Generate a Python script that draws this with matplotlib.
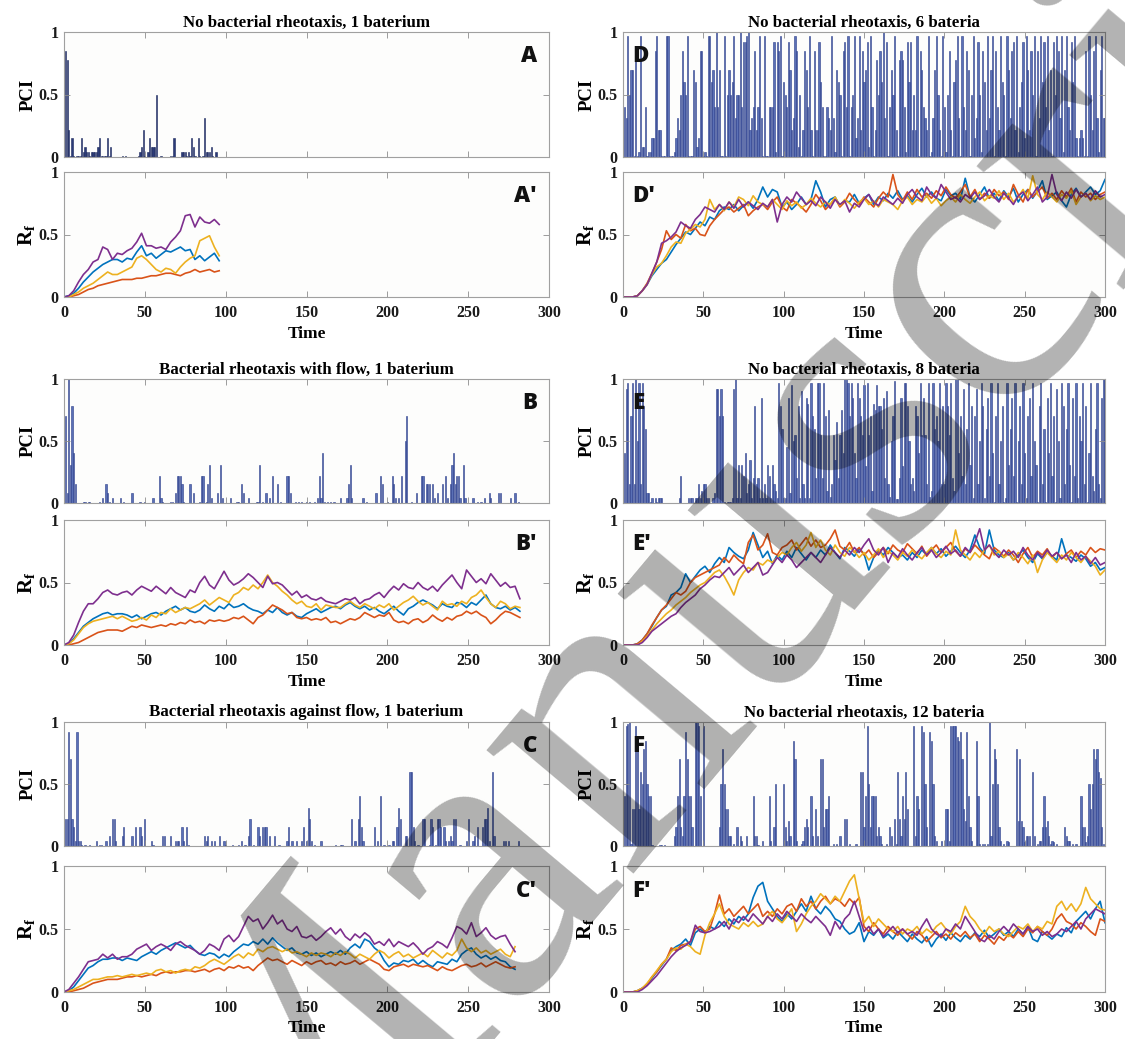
import matplotlib.pyplot as plt
import numpy as np

plt.rcParams['font.family'] = ['Liberation Serif', 'DejaVu Serif']
plt.rcParams['font.weight'] = 'bold'
plt.rcParams['axes.labelweight'] = 'bold'
plt.rcParams['axes.titleweight'] = 'bold'
plt.rcParams['mathtext.fontset'] = 'custom'
plt.rcParams['mathtext.bf'] = 'Liberation Serif:bold'
plt.rcParams['mathtext.rm'] = 'Liberation Serif:bold'

# ---------------- data ----------------
# PCI bars, sparse panels: (time, value)
pci_A = [(1, 0.85), (2, 0.78), (3, 0.22), (4, 0.01), (5, 0.15), (6, 0.01), (8, 0.01), (9, 0.01),
         (10, 0.01), (11, 0.15), (12, 0.04), (13, 0.08), (14, 0.04), (15, 0.04), (16, 0.01), (17, 0.04),
         (18, 0.04), (19, 0.04), (20, 0.04), (21, 0.08), (22, 0.15), (23, 0.01), (24, 0.01), (25, 0.01),
         (26, 0.01), (27, 0.15), (28, 0.01), (29, 0.08), (36, 0.01), (38, 0.01), (46, 0.01), (47, 0.04),
         (48, 0.08), (49, 0.22), (50, 0.01), (52, 0.04), (53, 0.15), (54, 0.08), (55, 0.08), (56, 0.08),
         (57, 0.50), (60, 0.01), (66, 0.01), (67, 0.01), (68, 0.15), (73, 0.04), (74, 0.04), (75, 0.04),
         (76, 0.01), (77, 0.04), (78, 0.01), (79, 0.15), (80, 0.08), (81, 0.01), (83, 0.15), (84, 0.01),
         (86, 0.01), (87, 0.31), (88, 0.04), (89, 0.04), (90, 0.04), (91, 0.08), (92, 0.01), (94, 0.04)]

pci_B = [(1, 0.70), (2, 0.08), (3, 1.00), (4, 0.31), (5, 0.78), (6, 0.40), (7, 0.15), (12, 0.01),
         (13, 0.01), (15, 0.01), (16, 0.01), (22, 0.01), (24, 0.04), (26, 0.15), (27, 0.08), (28, 0.01),
         (30, 0.04), (35, 0.04), (37, 0.01), (42, 0.08), (47, 0.01), (50, 0.01), (55, 0.04), (59, 0.22),
         (60, 0.04), (61, 0.01), (66, 0.01), (67, 0.01), (69, 0.08), (70, 0.22), (71, 0.22), (72, 0.22),
         (73, 0.15), (74, 0.01), (78, 0.15), (80, 0.08), (84, 0.01), (85, 0.22), (86, 0.22), (88, 0.01),
         (89, 0.15), (90, 0.31), (91, 0.04), (95, 0.08), (97, 0.31), (98, 0.04), (103, 0.04), (107, 0.01),
         (108, 0.01), (110, 0.15), (111, 0.08), (114, 0.04), (119, 0.01), (120, 0.01), (121, 0.31), (123, 0.01),
         (125, 0.08), (127, 0.04), (129, 0.22), (132, 0.15), (134, 0.01), (138, 0.22), (139, 0.22), (140, 0.08),
         (143, 0.01), (145, 0.01), (147, 0.01), (150, 0.01), (152, 0.01), (155, 0.01), (157, 0.04), (158, 0.22),
         (159, 0.04), (160, 0.40), (161, 0.01), (163, 0.01), (165, 0.01), (167, 0.01), (171, 0.04), (175, 0.04),
         (176, 0.15), (177, 0.31), (178, 0.04), (185, 0.04), (187, 0.01), (193, 0.08), (196, 0.22), (197, 0.15),
         (200, 0.01), (203, 0.22), (204, 0.15), (205, 0.04), (207, 0.04), (209, 0.22), (211, 0.50), (212, 0.70),
         (215, 0.01), (218, 0.08), (221, 0.22), (222, 0.22), (224, 0.15), (225, 0.15), (226, 0.15), (228, 0.15),
         (229, 0.04), (231, 0.08), (234, 0.15), (236, 0.22), (237, 0.04), (239, 0.15), (240, 0.31), (241, 0.40),
         (242, 0.15), (243, 0.22), (244, 0.22), (245, 0.04), (247, 0.31), (248, 0.04), (253, 0.04), (256, 0.01),
         (258, 0.01), (260, 0.04), (263, 0.08), (264, 0.04), (269, 0.08), (270, 0.08), (276, 0.04), (279, 0.08),
         (281, 0.01)]

pci_C = [(1, 0.22), (2, 0.22), (3, 0.92), (4, 0.70), (5, 0.22), (6, 0.15), (7, 0.04), (8, 0.92),
         (9, 0.04), (10, 0.04), (11, 0.01), (13, 0.01), (16, 0.01), (20, 0.04), (22, 0.01), (23, 0.01),
         (26, 0.04), (28, 0.08), (30, 0.22), (31, 0.22), (32, 0.04), (36, 0.08), (37, 0.15), (42, 0.08),
         (44, 0.15), (47, 0.15), (48, 0.08), (50, 0.22), (54, 0.04), (55, 0.01), (61, 0.08), (62, 0.08),
         (66, 0.08), (69, 0.04), (70, 0.04), (71, 0.04), (73, 0.15), (74, 0.04), (76, 0.15), (77, 0.01),
         (87, 0.08), (88, 0.04), (89, 0.08), (91, 0.04), (93, 0.04), (96, 0.08), (99, 0.04), (100, 0.01),
         (104, 0.01), (108, 0.01), (110, 0.04), (112, 0.01), (114, 0.08), (115, 0.22), (117, 0.01), (120, 0.15),
         (121, 0.08), (123, 0.15), (124, 0.15), (125, 0.15), (127, 0.08), (130, 0.08), (133, 0.01), (138, 0.04),
         (139, 0.15), (141, 0.04), (144, 0.04), (147, 0.04), (148, 0.15), (150, 0.04), (151, 0.31), (152, 0.22),
         (153, 0.04), (155, 0.01), (159, 0.04), (168, 0.01), (171, 0.01), (172, 0.01), (178, 0.22), (180, 0.04),
         (182, 0.22), (183, 0.40), (184, 0.15), (185, 0.04), (192, 0.15), (194, 0.04), (196, 0.40), (198, 0.01),
         (201, 0.01), (203, 0.04), (204, 0.04), (206, 0.15), (207, 0.31), (208, 0.22), (211, 0.08), (212, 0.08),
         (214, 0.60), (215, 0.60), (216, 0.15), (217, 0.04), (219, 0.01), (222, 0.22), (223, 0.22), (226, 0.01),
         (227, 0.22), (228, 0.15), (230, 0.01), (231, 0.22), (232, 0.22), (233, 0.15), (235, 0.15), (236, 0.04),
         (238, 0.04), (239, 0.08), (240, 0.04), (241, 0.22), (242, 0.22), (245, 0.01), (249, 0.04), (250, 0.22),
         (253, 0.04), (254, 0.08), (256, 0.15), (259, 0.15), (260, 0.22), (261, 0.22), (262, 0.31), (263, 0.04),
         (265, 0.60), (266, 0.08), (272, 0.04), (273, 0.04), (275, 0.04), (281, 0.04)]

# PCI bars, dense panels: one value per time step, t = 1..300
pci_D = [0.40, 0.31, 0.97, 0.50, 0.70, 0.70, 0.01, 0.78, 0.01, 0.04,
         0.97, 0.08, 0.08, 0.40, 0.01, 0.04, 0.04, 0.15, 0.15, 0.85,
         0.97, 0.22, 0.22, 0.01, 0.01, 0.01, 0.97, 0.97, 0.01, 0.01,
         0.01, 0.04, 0.15, 0.31, 0.22, 0.50, 0.85, 0.60, 0.50, 0.97,
         0.01, 0.01, 0.01, 0.70, 0.60, 0.08, 0.15, 0.85, 0.85, 0.01,
         0.04, 0.01, 0.97, 0.97, 0.60, 0.70, 0.40, 1.00, 0.40, 0.70,
         0.01, 0.01, 0.97, 0.01, 0.50, 0.70, 0.50, 0.60, 0.97, 0.31,
         0.50, 0.50, 1.00, 0.40, 0.92, 0.92, 0.97, 1.00, 0.22, 0.31,
         0.40, 0.85, 0.22, 0.40, 0.97, 0.31, 0.01, 0.97, 0.01, 0.01,
         0.40, 0.40, 0.40, 0.92, 0.04, 0.92, 0.85, 0.97, 0.01, 0.60,
         0.50, 0.40, 0.92, 0.70, 0.22, 0.31, 0.97, 0.85, 0.08, 0.50,
         0.01, 0.22, 0.85, 0.70, 0.40, 0.97, 0.22, 0.01, 0.85, 0.22,
         0.22, 0.92, 0.60, 0.40, 0.01, 0.01, 0.40, 0.31, 0.22, 0.97,
         0.31, 0.04, 0.70, 0.60, 0.50, 0.01, 0.85, 0.92, 0.40, 0.97,
         0.01, 0.40, 0.50, 0.97, 0.15, 0.31, 0.97, 0.22, 0.85, 0.60,
         0.70, 0.92, 0.08, 0.97, 0.40, 0.01, 0.22, 0.78, 0.50, 0.85,
         0.60, 1.00, 0.31, 0.92, 0.01, 0.40, 0.70, 0.50, 0.97, 0.22,
         0.01, 0.78, 0.85, 0.78, 0.40, 0.04, 0.92, 0.60, 0.92, 0.22,
         0.50, 0.22, 0.97, 0.01, 0.85, 0.70, 0.40, 0.31, 0.22, 0.97,
         0.01, 0.04, 0.31, 0.70, 0.97, 0.50, 0.22, 0.01, 0.97, 0.40,
         0.04, 0.50, 0.85, 0.22, 0.01, 0.60, 0.78, 0.97, 0.31, 0.01,
         0.97, 0.40, 0.22, 0.85, 0.70, 0.01, 0.50, 0.97, 0.15, 0.31,
         0.92, 0.50, 0.04, 0.85, 0.60, 0.22, 0.97, 0.31, 0.70, 0.97,
         0.01, 0.85, 0.40, 0.22, 0.97, 0.60, 0.50, 0.01, 0.97, 0.70,
         0.31, 0.85, 0.92, 0.22, 0.97, 0.04, 0.40, 0.60, 0.92, 0.15,
         0.97, 0.70, 0.22, 0.85, 0.50, 0.97, 0.01, 0.85, 0.31, 0.97,
         0.60, 0.92, 0.40, 0.97, 0.22, 0.70, 0.01, 0.92, 0.50, 0.97,
         0.85, 0.31, 0.97, 0.04, 0.70, 0.97, 0.40, 0.22, 0.92, 0.60,
         0.97, 0.15, 0.01, 0.15, 0.22, 0.15, 0.01, 0.85, 0.01, 0.97,
         0.50, 0.22, 0.85, 0.97, 0.31, 0.04, 0.70, 0.97, 0.31, 0.31]

pci_E = [0.40, 0.92, 0.97, 0.15, 0.70, 0.97, 0.15, 1.00, 0.50, 0.97,
         0.15, 0.97, 0.78, 0.60, 0.08, 0.08, 0.01, 0.04, 0.00, 0.04,
         0.01, 0.04, 0.04, 0.04, 0.00, 0.00, 0.00, 0.00, 0.00, 0.00,
         0.00, 0.00, 0.00, 0.00, 0.04, 0.22, 0.00, 0.00, 0.00, 0.00,
         0.04, 0.04, 0.04, 0.00, 0.04, 0.04, 0.15, 0.04, 0.10, 0.15,
         0.15, 0.04, 0.04, 0.00, 0.00, 0.04, 0.08, 0.92, 0.92, 0.70,
         0.92, 0.70, 0.01, 0.00, 0.01, 0.01, 0.01, 0.04, 0.92, 1.00,
         0.04, 0.31, 0.04, 0.31, 0.22, 0.40, 0.08, 0.15, 0.35, 0.04,
         0.20, 0.78, 0.15, 0.20, 0.04, 0.85, 0.04, 0.15, 0.04, 0.31,
         0.22, 0.04, 0.31, 0.15, 0.10, 0.04, 0.97, 0.78, 0.60, 0.04,
         0.04, 0.45, 0.85, 0.08, 0.95, 0.50, 0.55, 0.20, 0.78, 0.04,
         0.90, 0.15, 0.04, 0.85, 0.80, 0.04, 0.97, 0.70, 0.60, 0.20,
         0.97, 0.97, 0.55, 0.20, 0.97, 0.70, 0.10, 0.75, 0.05, 0.15,
         0.55, 0.35, 0.65, 0.20, 0.55, 0.75, 0.40, 1.00, 1.00, 0.97,
         0.70, 0.97, 0.85, 0.40, 0.20, 0.97, 0.85, 0.70, 0.55, 0.95,
         0.30, 0.97, 0.55, 0.70, 0.10, 0.80, 0.75, 0.95, 0.78, 0.78,
         0.60, 0.85, 0.20, 0.90, 0.15, 0.05, 0.50, 0.70, 0.98, 0.03,
         0.03, 0.20, 0.85, 0.30, 0.97, 0.97, 0.78, 0.50, 0.15, 0.20,
         0.10, 0.78, 0.70, 0.40, 0.97, 0.55, 0.85, 0.55, 0.15, 0.97,
         0.05, 0.10, 0.97, 0.60, 0.70, 0.50, 0.97, 0.15, 0.78, 0.15,
         0.97, 0.78, 0.55, 0.97, 0.20, 0.10, 1.00, 1.00, 0.40, 0.70,
         0.22, 0.92, 0.15, 0.60, 0.97, 0.31, 0.78, 0.04, 0.70, 0.92,
         0.15, 0.50, 0.97, 0.78, 0.04, 0.60, 0.85, 0.22, 0.97, 0.40,
         0.01, 0.70, 0.97, 0.15, 0.50, 0.78, 0.01, 0.04, 0.97, 0.31,
         0.60, 0.85, 0.22, 0.97, 0.01, 0.50, 0.78, 0.15, 0.97, 0.40,
         0.04, 0.70, 0.85, 0.22, 0.97, 0.50, 0.31, 0.01, 0.78, 0.97,
         0.15, 0.60, 0.01, 0.85, 0.40, 0.97, 0.22, 0.70, 0.01, 0.92,
         0.50, 0.04, 0.97, 0.78, 0.15, 0.60, 0.97, 0.31, 0.01, 0.85,
         0.22, 0.97, 0.04, 0.70, 0.50, 0.97, 0.15, 0.78, 0.01, 0.40,
         0.97, 0.22, 0.10, 0.60, 0.97, 0.15, 0.04, 0.85, 1.00, 1.00]

pci_F = [0.40, 0.97, 0.98, 1.00, 0.02, 0.30, 0.30, 0.97, 0.80, 0.30,
         0.60, 0.50, 0.78, 0.85, 0.50, 0.40, 0.40, 0.01, 0.00, 0.00,
         0.00, 0.00, 0.01, 0.01, 0.00, 0.01, 0.00, 0.00, 0.00, 0.00,
         0.00, 0.08, 0.15, 0.40, 0.70, 0.15, 0.08, 0.40, 0.92, 0.70,
         0.40, 0.40, 0.15, 0.00, 1.00, 1.00, 0.97, 0.40, 0.00, 0.97,
         0.00, 0.00, 0.00, 0.00, 0.00, 0.00, 0.00, 0.00, 0.00, 0.15,
         0.50, 0.78, 0.50, 0.30, 0.30, 0.08, 0.08, 0.00, 0.02, 0.00,
         0.15, 0.00, 0.08, 0.04, 0.00, 0.00, 0.08, 0.00, 0.00, 0.00,
         0.40, 0.08, 0.08, 0.01, 0.00, 0.00, 0.04, 0.00, 0.00, 0.00,
         0.40, 0.04, 0.00, 0.15, 0.50, 0.00, 0.00, 0.00, 0.00, 0.50,
         0.15, 0.04, 0.20, 0.08, 0.00, 0.85, 0.70, 0.04, 0.00, 0.00,
         0.02, 0.04, 0.15, 0.22, 0.15, 0.00, 0.40, 0.08, 0.00, 0.30,
         0.08, 0.00, 0.70, 0.70, 0.15, 0.30, 0.30, 0.40, 0.00, 0.00,
         0.02, 0.00, 0.02, 0.00, 0.08, 0.00, 0.00, 0.22, 0.22, 0.00,
         0.02, 0.00, 0.00, 0.00, 0.02, 0.00, 0.00, 0.60, 0.60, 0.15,
         0.40, 0.97, 0.50, 0.15, 0.40, 0.40, 0.40, 0.08, 0.15, 0.08,
         0.02, 0.00, 0.00, 0.02, 0.00, 0.15, 0.08, 0.00, 0.22, 0.02,
         0.60, 0.22, 0.08, 0.40, 0.22, 0.60, 0.30, 0.00, 0.00, 0.00,
         0.97, 0.08, 0.40, 0.30, 0.00, 0.97, 0.92, 0.50, 0.15, 0.00,
         0.92, 0.85, 0.50, 0.08, 0.04, 0.00, 0.00, 0.04, 0.00, 0.00,
         0.30, 0.30, 0.04, 0.97, 0.97, 0.97, 0.97, 0.88, 0.85, 0.92,
         0.70, 0.30, 0.20, 0.92, 0.40, 0.15, 0.04, 0.00, 0.00, 0.85,
         0.40, 0.02, 0.00, 0.02, 0.02, 0.00, 0.02, 1.00, 0.08, 0.50,
         0.78, 0.70, 0.50, 0.15, 0.04, 0.00, 0.02, 0.00, 0.04, 0.03,
         0.00, 0.00, 0.00, 0.00, 0.78, 0.20, 0.70, 0.20, 0.15, 0.03,
         0.08, 0.08, 0.08, 0.00, 0.60, 0.08, 0.00, 0.02, 0.04, 0.04,
         0.15, 0.40, 0.15, 0.20, 0.08, 0.02, 0.04, 0.03, 0.00, 0.02,
         0.00, 0.00, 0.00, 0.00, 0.15, 0.08, 0.04, 0.04, 0.00, 0.02,
         0.00, 0.02, 0.00, 0.00, 0.40, 0.15, 0.15, 0.03, 0.08, 0.50,
         0.30, 0.50, 0.78, 0.70, 0.78, 0.60, 0.55, 0.15, 0.02, 0.00]

# Rf curves, sampled every 3 time units starting at t = 0 (blue, red, yellow, purple)
rf_A = {
    'blue':   [0, 0.01, 0.03, 0.07, 0.12, 0.16, 0.20, 0.23, 0.26, 0.28,
               0.30, 0.30, 0.28, 0.31, 0.30, 0.36, 0.41, 0.33, 0.35, 0.31,
               0.34, 0.37, 0.36, 0.38, 0.40, 0.37, 0.38, 0.30, 0.33, 0.29,
               0.32, 0.35, 0.29],
    'red':    [0, 0, 0.01, 0.02, 0.04, 0.06, 0.07, 0.09, 0.10, 0.11,
               0.12, 0.13, 0.14, 0.14, 0.14, 0.15, 0.15, 0.16, 0.17, 0.17,
               0.18, 0.19, 0.19, 0.18, 0.17, 0.19, 0.20, 0.22, 0.20, 0.21,
               0.22, 0.20, 0.21],
    'yellow': [0, 0, 0.02, 0.04, 0.07, 0.09, 0.11, 0.14, 0.17, 0.20,
               0.18, 0.18, 0.20, 0.22, 0.24, 0.31, 0.33, 0.30, 0.26, 0.22,
               0.20, 0.23, 0.22, 0.19, 0.24, 0.28, 0.31, 0.33, 0.45, 0.47,
               0.49, 0.40, 0.33],
    'purple': [0, 0.01, 0.05, 0.12, 0.18, 0.22, 0.28, 0.30, 0.40, 0.38,
               0.30, 0.35, 0.34, 0.37, 0.39, 0.44, 0.51, 0.41, 0.41, 0.39,
               0.40, 0.38, 0.44, 0.48, 0.53, 0.65, 0.66, 0.56, 0.64, 0.60,
               0.59, 0.62, 0.58],
}

rf_B = {
    'blue':   [0, 0.01, 0.05, 0.10, 0.15, 0.18, 0.21, 0.23, 0.25, 0.26,
               0.24, 0.25, 0.25, 0.24, 0.22, 0.24, 0.21, 0.23, 0.25, 0.26,
               0.24, 0.27, 0.29, 0.31, 0.28, 0.30, 0.27, 0.26, 0.28, 0.32,
               0.29, 0.27, 0.31, 0.29, 0.33, 0.30, 0.31, 0.33, 0.30, 0.28,
               0.27, 0.25, 0.28, 0.26, 0.30, 0.26, 0.24, 0.26, 0.23, 0.22,
               0.25, 0.27, 0.29, 0.26, 0.28, 0.30, 0.31, 0.29, 0.32, 0.34,
               0.31, 0.29, 0.31, 0.28, 0.30, 0.27, 0.25, 0.28, 0.31, 0.27,
               0.24, 0.29, 0.31, 0.34, 0.36, 0.34, 0.32, 0.29, 0.33, 0.31,
               0.30, 0.34, 0.33, 0.30, 0.34, 0.32, 0.36, 0.40, 0.33, 0.30,
               0.29, 0.31, 0.28, 0.30, 0.27],
    'red':    [0, 0, 0.01, 0.02, 0.04, 0.06, 0.08, 0.10, 0.11, 0.12,
               0.12, 0.12, 0.11, 0.13, 0.15, 0.14, 0.16, 0.15, 0.14, 0.15,
               0.16, 0.15, 0.17, 0.16, 0.18, 0.17, 0.20, 0.18, 0.19, 0.17,
               0.20, 0.19, 0.20, 0.19, 0.20, 0.22, 0.21, 0.23, 0.20, 0.17,
               0.22, 0.24, 0.28, 0.32, 0.30, 0.28, 0.25, 0.26, 0.22, 0.21,
               0.22, 0.20, 0.21, 0.20, 0.22, 0.18, 0.19, 0.17, 0.19, 0.21,
               0.20, 0.22, 0.26, 0.24, 0.22, 0.24, 0.23, 0.26, 0.20, 0.18,
               0.19, 0.17, 0.20, 0.21, 0.18, 0.20, 0.24, 0.21, 0.19, 0.22,
               0.20, 0.23, 0.24, 0.27, 0.25, 0.27, 0.24, 0.22, 0.17, 0.20,
               0.24, 0.27, 0.26, 0.24, 0.22],
    'yellow': [0, 0.01, 0.04, 0.09, 0.14, 0.17, 0.19, 0.20, 0.21, 0.22,
               0.23, 0.21, 0.23, 0.21, 0.19, 0.20, 0.22, 0.20, 0.24, 0.22,
               0.26, 0.25, 0.29, 0.26, 0.28, 0.30, 0.29, 0.31, 0.33, 0.36,
               0.32, 0.35, 0.38, 0.36, 0.34, 0.40, 0.42, 0.46, 0.44, 0.48,
               0.45, 0.50, 0.56, 0.50, 0.47, 0.43, 0.40, 0.36, 0.33, 0.35,
               0.31, 0.30, 0.33, 0.28, 0.32, 0.31, 0.30, 0.30, 0.33, 0.35,
               0.32, 0.30, 0.33, 0.31, 0.29, 0.32, 0.30, 0.33, 0.28, 0.31,
               0.34, 0.36, 0.39, 0.35, 0.32, 0.34, 0.31, 0.28, 0.35, 0.32,
               0.33, 0.31, 0.35, 0.33, 0.38, 0.40, 0.44, 0.38, 0.33, 0.30,
               0.35, 0.33, 0.29, 0.31, 0.30],
    'purple': [0, 0.02, 0.08, 0.18, 0.27, 0.33, 0.33, 0.37, 0.42, 0.44,
               0.41, 0.40, 0.42, 0.43, 0.40, 0.44, 0.47, 0.45, 0.43, 0.47,
               0.44, 0.41, 0.46, 0.42, 0.40, 0.38, 0.44, 0.42, 0.50, 0.55,
               0.48, 0.45, 0.52, 0.59, 0.52, 0.48, 0.50, 0.53, 0.57, 0.54,
               0.50, 0.46, 0.55, 0.49, 0.50, 0.48, 0.44, 0.40, 0.43, 0.38,
               0.40, 0.37, 0.36, 0.38, 0.35, 0.34, 0.33, 0.35, 0.37, 0.36,
               0.38, 0.33, 0.36, 0.37, 0.40, 0.42, 0.38, 0.43, 0.47, 0.44,
               0.49, 0.46, 0.45, 0.50, 0.46, 0.44, 0.47, 0.43, 0.48, 0.52,
               0.56, 0.50, 0.45, 0.60, 0.55, 0.50, 0.53, 0.49, 0.57, 0.52,
               0.47, 0.50, 0.46, 0.47, 0.37],
}

rf_C = {
    'blue':   [0, 0.01, 0.04, 0.09, 0.14, 0.19, 0.21, 0.24, 0.26, 0.26,
               0.27, 0.27, 0.25, 0.27, 0.26, 0.25, 0.28, 0.30, 0.32, 0.30,
               0.33, 0.35, 0.37, 0.39, 0.37, 0.35, 0.37, 0.33, 0.30, 0.29,
               0.31, 0.30, 0.27, 0.30, 0.28, 0.32, 0.35, 0.38, 0.37, 0.40,
               0.38, 0.42, 0.38, 0.43, 0.39, 0.36, 0.33, 0.35, 0.31, 0.30,
               0.32, 0.29, 0.31, 0.28, 0.30, 0.32, 0.30, 0.33, 0.30, 0.35,
               0.38, 0.35, 0.42, 0.40, 0.35, 0.32, 0.25, 0.20, 0.23, 0.22,
               0.25, 0.24, 0.26, 0.22, 0.25, 0.22, 0.20, 0.24, 0.23, 0.22,
               0.26, 0.24, 0.30, 0.33, 0.35, 0.30, 0.27, 0.29, 0.26, 0.28,
               0.25, 0.24, 0.20, 0.18],
    'red':    [0, 0, 0.01, 0.02, 0.03, 0.05, 0.07, 0.08, 0.09, 0.10,
               0.10, 0.10, 0.11, 0.12, 0.12, 0.13, 0.12, 0.13, 0.14, 0.13,
               0.15, 0.16, 0.15, 0.16, 0.16, 0.17, 0.17, 0.16, 0.17, 0.18,
               0.16, 0.18, 0.19, 0.17, 0.20, 0.19, 0.21, 0.19, 0.20, 0.17,
               0.21, 0.24, 0.27, 0.25, 0.26, 0.24, 0.22, 0.25, 0.23, 0.21,
               0.24, 0.22, 0.24, 0.25, 0.22, 0.23, 0.21, 0.24, 0.22, 0.23,
               0.25, 0.22, 0.24, 0.26, 0.24, 0.22, 0.18, 0.17, 0.20, 0.21,
               0.22, 0.20, 0.22, 0.21, 0.20, 0.21, 0.19, 0.17, 0.20, 0.18,
               0.17, 0.19, 0.21, 0.22, 0.20, 0.21, 0.23, 0.20, 0.22, 0.24,
               0.22, 0.20, 0.19, 0.20],
    'yellow': [0, 0.01, 0.02, 0.04, 0.06, 0.08, 0.10, 0.10, 0.11, 0.12,
               0.12, 0.13, 0.12, 0.13, 0.14, 0.13, 0.14, 0.15, 0.14, 0.17,
               0.18, 0.16, 0.17, 0.15, 0.17, 0.18, 0.17, 0.20, 0.19, 0.21,
               0.24, 0.26, 0.24, 0.22, 0.25, 0.28, 0.30, 0.27, 0.31, 0.29,
               0.34, 0.32, 0.35, 0.36, 0.34, 0.32, 0.34, 0.31, 0.32, 0.30,
               0.28, 0.31, 0.29, 0.31, 0.30, 0.28, 0.31, 0.29, 0.32, 0.30,
               0.27, 0.30, 0.28, 0.26, 0.30, 0.33, 0.31, 0.27, 0.30, 0.32,
               0.28, 0.30, 0.27, 0.29, 0.31, 0.28, 0.33, 0.30, 0.27, 0.31,
               0.29, 0.33, 0.42, 0.35, 0.32, 0.35, 0.31, 0.33, 0.30, 0.32,
               0.34, 0.30, 0.28, 0.36],
    'purple': [0, 0.02, 0.07, 0.12, 0.18, 0.24, 0.25, 0.26, 0.30, 0.27,
               0.30, 0.26, 0.28, 0.28, 0.30, 0.34, 0.36, 0.38, 0.33, 0.36,
               0.38, 0.36, 0.33, 0.38, 0.40, 0.37, 0.35, 0.33, 0.30, 0.33,
               0.38, 0.36, 0.33, 0.42, 0.45, 0.40, 0.44, 0.52, 0.60, 0.56,
               0.58, 0.50, 0.55, 0.61, 0.54, 0.57, 0.50, 0.48, 0.52, 0.44,
               0.43, 0.45, 0.41, 0.44, 0.48, 0.51, 0.46, 0.50, 0.44, 0.41,
               0.46, 0.43, 0.47, 0.44, 0.38, 0.40, 0.37, 0.42, 0.36, 0.40,
               0.38, 0.36, 0.39, 0.35, 0.30, 0.34, 0.36, 0.40, 0.38, 0.35,
               0.43, 0.52, 0.50, 0.46, 0.55, 0.44, 0.47, 0.51, 0.45, 0.42,
               0.44, 0.45, 0.38, 0.32],
}

rf_D = {
    'blue':   [0, 0, 0, 0.01, 0.05, 0.10, 0.17, 0.22, 0.27, 0.30,
               0.36, 0.42, 0.47, 0.52, 0.50, 0.55, 0.60, 0.57, 0.64, 0.62,
               0.69, 0.72, 0.70, 0.74, 0.69, 0.73, 0.76, 0.71, 0.78, 0.88,
               0.80, 0.86, 0.84, 0.72, 0.76, 0.70, 0.74, 0.80, 0.74, 0.78,
               0.93, 0.84, 0.72, 0.78, 0.80, 0.73, 0.77, 0.76, 0.82, 0.75,
               0.79, 0.82, 0.74, 0.80, 0.77, 0.83, 0.79, 0.85, 0.78, 0.81,
               0.76, 0.82, 0.87, 0.80, 0.84, 0.79, 0.77, 0.86, 0.81, 0.83,
               0.78, 0.95, 0.80, 0.76, 0.82, 0.88, 0.79, 0.83, 0.77, 0.85,
               0.80, 0.87, 0.76, 0.82, 0.86, 0.79, 0.85, 0.93, 0.78, 0.81,
               0.84, 0.77, 0.72, 0.82, 0.87, 0.80, 0.84, 0.88, 0.82, 0.85,
               0.94],
    'red':    [0, 0, 0, 0.01, 0.05, 0.11, 0.19, 0.28, 0.38, 0.53,
               0.46, 0.50, 0.47, 0.58, 0.53, 0.55, 0.50, 0.49, 0.57, 0.62,
               0.66, 0.70, 0.72, 0.68, 0.71, 0.74, 0.65, 0.69, 0.72, 0.74,
               0.70, 0.76, 0.80, 0.72, 0.69, 0.78, 0.75, 0.72, 0.68, 0.74,
               0.82, 0.77, 0.70, 0.74, 0.79, 0.72, 0.76, 0.83, 0.78, 0.74,
               0.80, 0.76, 0.72, 0.79, 0.84, 0.80, 0.98, 0.82, 0.77, 0.84,
               0.78, 0.86, 0.80, 0.83, 0.79, 0.85, 0.81, 0.88, 0.82, 0.79,
               0.84, 0.90, 0.80, 0.86, 0.78, 0.83, 0.79, 0.86, 0.81, 0.84,
               0.78, 0.90, 0.82, 0.76, 0.86, 0.80, 0.84, 0.88, 0.79, 0.83,
               0.78, 0.85, 0.80, 0.87, 0.76, 0.84, 0.80, 0.83, 0.78, 0.82,
               0.84],
    'yellow': [0, 0, 0, 0.01, 0.05, 0.10, 0.18, 0.24, 0.27, 0.33,
               0.40, 0.44, 0.43, 0.51, 0.54, 0.58, 0.56, 0.62, 0.78, 0.70,
               0.74, 0.69, 0.76, 0.72, 0.80, 0.78, 0.73, 0.81, 0.76, 0.74,
               0.72, 0.78, 0.74, 0.70, 0.77, 0.73, 0.76, 0.71, 0.74, 0.79,
               0.75, 0.72, 0.76, 0.74, 0.80, 0.73, 0.78, 0.75, 0.71, 0.76,
               0.79, 0.74, 0.77, 0.72, 0.78, 0.76, 0.74, 0.70, 0.77, 0.80,
               0.74, 0.78, 0.76, 0.81, 0.75, 0.79, 0.73, 0.77, 0.80, 0.76,
               0.82, 0.78, 0.75, 0.80, 0.84, 0.77, 0.81, 0.79, 0.85, 0.78,
               0.83, 0.76, 0.80, 0.86, 0.79, 0.97, 0.82, 0.78, 0.84, 0.80,
               0.76, 0.82, 0.79, 0.85, 0.74, 0.80, 0.83, 0.77, 0.81, 0.78,
               0.80],
    'purple': [0, 0, 0, 0.01, 0.05, 0.10, 0.19, 0.28, 0.43, 0.45,
               0.48, 0.52, 0.60, 0.57, 0.55, 0.62, 0.66, 0.72, 0.70, 0.68,
               0.74, 0.70, 0.76, 0.71, 0.78, 0.72, 0.76, 0.73, 0.70, 0.75,
               0.72, 0.78, 0.60, 0.74, 0.80, 0.76, 0.84, 0.79, 0.74, 0.77,
               0.73, 0.80, 0.76, 0.71, 0.78, 0.74, 0.77, 0.68, 0.75, 0.72,
               0.78, 0.82, 0.76, 0.73, 0.80, 0.77, 0.74, 0.79, 0.75, 0.82,
               0.86, 0.80, 0.77, 0.88, 0.82, 0.79, 0.90, 0.84, 0.78, 0.80,
               0.76, 0.82, 0.79, 0.84, 0.78, 0.81, 0.86, 0.80, 0.76, 0.83,
               0.79, 0.74, 0.81, 0.84, 0.77, 0.82, 0.88, 0.76, 0.80, 0.98,
               0.82, 0.77, 0.84, 0.79, 0.86, 0.80, 0.83, 0.78, 0.85, 0.80,
               0.82],
}

rf_E = {
    'blue':   [0, 0, 0, 0.01, 0.04, 0.09, 0.15, 0.22, 0.28, 0.31,
               0.40, 0.42, 0.46, 0.57, 0.50, 0.55, 0.60, 0.63, 0.58, 0.65,
               0.70, 0.66, 0.78, 0.74, 0.71, 0.69, 0.76, 0.90, 0.80, 0.70,
               0.75, 0.65, 0.72, 0.68, 0.75, 0.70, 0.78, 0.73, 0.68, 0.74,
               0.70, 0.76, 0.72, 0.80, 0.74, 0.69, 0.78, 0.75, 0.71, 0.77,
               0.73, 0.60, 0.70, 0.76, 0.72, 0.78, 0.74, 0.70, 0.72, 0.68,
               0.74, 0.70, 0.76, 0.72, 0.78, 0.73, 0.77, 0.71, 0.75, 0.79,
               0.74, 0.70, 0.76, 0.88, 0.78, 0.73, 0.92, 0.76, 0.72, 0.70,
               0.74, 0.68, 0.72, 0.76, 0.70, 0.66, 0.73, 0.69, 0.74, 0.71,
               0.68, 0.85, 0.72, 0.70, 0.67, 0.72, 0.69, 0.63, 0.66, 0.60,
               0.62],
    'red':    [0, 0, 0, 0.01, 0.04, 0.09, 0.16, 0.22, 0.28, 0.32,
               0.37, 0.42, 0.40, 0.43, 0.50, 0.54, 0.56, 0.58, 0.60, 0.62,
               0.64, 0.70, 0.66, 0.72, 0.68, 0.65, 0.82, 0.88, 0.76, 0.80,
               0.89, 0.74, 0.72, 0.78, 0.80, 0.84, 0.76, 0.81, 0.86, 0.79,
               0.84, 0.78, 0.80, 0.85, 0.92, 0.79, 0.76, 0.82, 0.74, 0.78,
               0.72, 0.76, 0.70, 0.74, 0.78, 0.73, 0.80, 0.76, 0.74, 0.81,
               0.77, 0.73, 0.79, 0.71, 0.76, 0.80, 0.74, 0.78, 0.82, 0.75,
               0.71, 0.77, 0.74, 0.80, 0.76, 0.72, 0.69, 0.78, 0.75, 0.71,
               0.76, 0.72, 0.66, 0.73, 0.78, 0.70, 0.75, 0.72, 0.77, 0.70,
               0.74, 0.69, 0.73, 0.76, 0.70, 0.75, 0.72, 0.78, 0.74, 0.77,
               0.76],
    'yellow': [0, 0, 0, 0, 0.03, 0.07, 0.12, 0.17, 0.21, 0.25,
               0.28, 0.32, 0.35, 0.38, 0.42, 0.45, 0.48, 0.50, 0.54, 0.58,
               0.60, 0.55, 0.48, 0.40, 0.52, 0.58, 0.62, 0.60, 0.66, 0.64,
               0.68, 0.66, 0.70, 0.74, 0.72, 0.78, 0.82, 0.75, 0.80, 0.90,
               0.78, 0.84, 0.76, 0.72, 0.80, 0.74, 0.71, 0.78, 0.75, 0.70,
               0.74, 0.68, 0.72, 0.77, 0.70, 0.75, 0.72, 0.68, 0.74, 0.71,
               0.76, 0.72, 0.69, 0.74, 0.78, 0.73, 0.70, 0.75, 0.72, 0.92,
               0.76, 0.72, 0.68, 0.74, 0.70, 0.76, 0.80, 0.72, 0.75, 0.70,
               0.73, 0.68, 0.74, 0.70, 0.65, 0.72, 0.58, 0.68, 0.74, 0.70,
               0.66, 0.72, 0.68, 0.74, 0.70, 0.66, 0.71, 0.67, 0.63, 0.56,
               0.60],
    'purple': [0, 0, 0, 0, 0.02, 0.06, 0.11, 0.14, 0.17, 0.20,
               0.23, 0.25, 0.30, 0.34, 0.37, 0.40, 0.45, 0.48, 0.52, 0.55,
               0.54, 0.58, 0.62, 0.56, 0.60, 0.64, 0.58, 0.62, 0.66, 0.56,
               0.58, 0.64, 0.70, 0.66, 0.72, 0.68, 0.62, 0.66, 0.70, 0.74,
               0.70, 0.66, 0.72, 0.78, 0.74, 0.70, 0.76, 0.72, 0.78, 0.74,
               0.80, 0.85, 0.76, 0.72, 0.78, 0.66, 0.74, 0.70, 0.77, 0.72,
               0.68, 0.74, 0.78, 0.72, 0.76, 0.70, 0.74, 0.79, 0.73, 0.76,
               0.71, 0.78, 0.74, 0.82, 0.93, 0.76, 0.80, 0.74, 0.70, 0.76,
               0.72, 0.75, 0.70, 0.78, 0.72, 0.68, 0.74, 0.70, 0.76, 0.71,
               0.74, 0.69, 0.72, 0.66, 0.74, 0.68, 0.71, 0.65, 0.70, 0.64,
               0.66],
}

rf_F = {
    'blue':   [0, 0, 0, 0.01, 0.03, 0.06, 0.11, 0.16, 0.21, 0.26,
               0.33, 0.36, 0.38, 0.42, 0.37, 0.47, 0.50, 0.47, 0.52, 0.50,
               0.56, 0.52, 0.58, 0.54, 0.60, 0.57, 0.62, 0.75, 0.84, 0.87,
               0.72, 0.66, 0.60, 0.56, 0.62, 0.58, 0.64, 0.70, 0.64, 0.76,
               0.66, 0.62, 0.68, 0.64, 0.58, 0.56, 0.50, 0.46, 0.48, 0.55,
               0.40, 0.48, 0.45, 0.50, 0.43, 0.46, 0.42, 0.48, 0.44, 0.40,
               0.46, 0.42, 0.39, 0.44, 0.36, 0.42, 0.46, 0.41, 0.47, 0.43,
               0.40, 0.45, 0.42, 0.47, 0.44, 0.49, 0.43, 0.46, 0.50, 0.45,
               0.48, 0.44, 0.50, 0.46, 0.52, 0.42, 0.40, 0.48, 0.45, 0.42,
               0.46, 0.44, 0.51, 0.47, 0.56, 0.60, 0.64, 0.58, 0.66, 0.72,
               0.55],
    'red':    [0, 0, 0, 0.01, 0.03, 0.06, 0.12, 0.16, 0.22, 0.26,
               0.35, 0.33, 0.37, 0.38, 0.40, 0.50, 0.52, 0.48, 0.50, 0.62,
               0.77, 0.62, 0.66, 0.60, 0.64, 0.68, 0.62, 0.66, 0.70, 0.60,
               0.64, 0.60, 0.66, 0.62, 0.68, 0.70, 0.64, 0.74, 0.68, 0.72,
               0.66, 0.72, 0.76, 0.70, 0.74, 0.72, 0.68, 0.74, 0.70, 0.75,
               0.52, 0.48, 0.55, 0.50, 0.46, 0.52, 0.48, 0.45, 0.50, 0.46,
               0.42, 0.48, 0.45, 0.40, 0.44, 0.48, 0.43, 0.46, 0.42, 0.47,
               0.44, 0.48, 0.43, 0.46, 0.40, 0.45, 0.42, 0.38, 0.44, 0.41,
               0.46, 0.43, 0.48, 0.44, 0.50, 0.47, 0.52, 0.48, 0.45, 0.50,
               0.58, 0.62, 0.56, 0.54, 0.50, 0.55, 0.52, 0.48, 0.45, 0.58,
               0.56],
    'yellow': [0, 0, 0, 0.01, 0.03, 0.07, 0.12, 0.17, 0.22, 0.26,
               0.32, 0.35, 0.34, 0.38, 0.36, 0.32, 0.30, 0.45, 0.55, 0.62,
               0.70, 0.60, 0.54, 0.52, 0.50, 0.55, 0.52, 0.56, 0.52, 0.54,
               0.60, 0.64, 0.58, 0.55, 0.60, 0.66, 0.48, 0.54, 0.62, 0.68,
               0.72, 0.78, 0.74, 0.70, 0.76, 0.72, 0.80, 0.88, 0.93, 0.74,
               0.55, 0.60, 0.52, 0.58, 0.54, 0.50, 0.48, 0.52, 0.46, 0.50,
               0.48, 0.52, 0.46, 0.50, 0.47, 0.52, 0.55, 0.50, 0.46, 0.52,
               0.56, 0.68, 0.60, 0.56, 0.50, 0.46, 0.52, 0.48, 0.50, 0.46,
               0.44, 0.48, 0.52, 0.50, 0.54, 0.48, 0.52, 0.50, 0.56, 0.54,
               0.68, 0.72, 0.65, 0.70, 0.64, 0.70, 0.83, 0.74, 0.70, 0.66,
               0.65],
    'purple': [0, 0, 0, 0, 0.02, 0.05, 0.09, 0.13, 0.18, 0.23,
               0.28, 0.32, 0.35, 0.37, 0.40, 0.53, 0.48, 0.47, 0.48, 0.50,
               0.52, 0.56, 0.50, 0.58, 0.55, 0.60, 0.56, 0.62, 0.58, 0.54,
               0.60, 0.56, 0.62, 0.58, 0.64, 0.60, 0.56, 0.62, 0.58, 0.55,
               0.60, 0.56, 0.52, 0.45, 0.56, 0.50, 0.58, 0.62, 0.72, 0.60,
               0.48, 0.52, 0.46, 0.50, 0.44, 0.48, 0.52, 0.47, 0.50, 0.46,
               0.48, 0.45, 0.52, 0.58, 0.50, 0.46, 0.44, 0.50, 0.48, 0.54,
               0.50, 0.60, 0.54, 0.48, 0.42, 0.40, 0.45, 0.42, 0.48, 0.52,
               0.48, 0.54, 0.50, 0.46, 0.52, 0.48, 0.50, 0.45, 0.48, 0.44,
               0.46, 0.50, 0.48, 0.52, 0.56, 0.50, 0.58, 0.62, 0.66, 0.64,
               0.62],
}

titles = ['No bacterial rheotaxis, 1 baterium', 'Bacterial rheotaxis with flow, 1 baterium',
          'Bacterial rheotaxis against flow, 1 baterium', 'No bacterial rheotaxis, 6 bateria',
          'No bacterial rheotaxis, 8 bateria', 'No bacterial rheotaxis, 12 bateria']
letters = ['A', 'B', 'C', 'D', 'E', 'F']

line_colors = {'blue': '#0072BD', 'red': '#D95319', 'yellow': '#EDB120', 'purple': '#7E2F8E'}

# ---------------- figure ----------------
W, H = 1125, 1039
fig = plt.figure(figsize=(W / 100, H / 100), dpi=100)


def add_ax(x0, x1, top, bottom):
    return fig.add_axes([x0 / W, 1 - bottom / H, (x1 - x0) / W, (bottom - top) / H])


def style(ax, show_x):
    ax.set_facecolor('#fdfdfc')
    ax.set_xlim(0, 300)
    ax.set_ylim(0, 1)
    ax.set_xticks(np.arange(0, 301, 50))
    ax.set_yticks([0, 0.5, 1])
    ax.set_yticklabels(['0', '0.5', '1'])
    if not show_x:
        ax.set_xticklabels([])
    ax.tick_params(direction='in', top=True, right=True, length=4, width=0.6,
                   color='#8c8c8c', labelsize=11.5, labelcolor='#1a1a1a')
    ax.tick_params(axis='x', pad=6)
    ax.tick_params(axis='y', pad=4)
    for s in ax.spines.values():
        s.set_color('#a0a0a0')
        s.set_linewidth(0.8)


columns = [(64, 549), (623, 1105)]
rows = [((32, 157), (172, 297)), ((379, 503), (520, 645)), ((722, 846), (866, 992))]

pci_data = [pci_A, pci_B, pci_C, pci_D, pci_E, pci_F]
rf_data = [rf_A, rf_B, rf_C, rf_D, rf_E, rf_F]

for k in range(6):
    col, row = divmod(k, 3)
    x0, x1 = columns[col]
    (t1, b1), (t2, b2) = rows[row]
    ax_p = add_ax(x0, x1, t1, b1)
    ax_r = add_ax(x0, x1, t2, b2)

    pci = pci_data[k]
    if col == 0:
        tt = [p[0] for p in pci]
        vv = [p[1] for p in pci]
    else:
        vv = pci
        tt = np.arange(1, len(vv) + 1)
    face = '#2b3b78' if k == 0 else '#5a70b6'
    edge = '#1b275c' if k == 0 else '#2a3d8a'
    ax_p.bar(tt, vv, width=0.75, color=face, edgecolor=edge, linewidth=0.4)
    style(ax_p, False)
    ax_p.set_ylabel('PCI', fontsize=13.5, labelpad=1)
    ax_p.set_title(titles[k], fontsize=12.2, pad=4)

    for name in ['blue', 'red', 'yellow', 'purple']:
        vals = rf_data[k][name]
        ax_r.plot(np.arange(len(vals)) * 3, vals, color=line_colors[name], lw=1.2)
    style(ax_r, True)
    ax_r.set_ylabel(r'$\mathbf{R_f}$', fontsize=15, labelpad=1)
    ax_r.set_xlabel('Time', fontsize=12.5, labelpad=3)

    lkw = dict(fontsize=16, fontweight='heavy', family='Open Sans', va='top', color='#111111')
    if col == 0:
        ax_p.text(0.975, 0.9, letters[k], transform=ax_p.transAxes, ha='right', **lkw)
        ax_r.text(0.975, 0.9, letters[k] + '\u2032', transform=ax_r.transAxes, ha='right', **lkw)
    else:
        ax_p.text(0.02, 0.9, letters[k], transform=ax_p.transAxes, ha='left', **lkw)
        ax_r.text(0.02, 0.9, letters[k] + '\u2032', transform=ax_r.transAxes, ha='left', **lkw)

# watermark
fig.text(800 / W, 1 - 505 / H, 'Manuscript', rotation=50, rotation_mode='anchor',
         ha='center', va='center', fontsize=300, family='Liberation Serif', fontweight='normal',
         color='black', alpha=0.3, zorder=10)

fig.savefig('out.png', dpi=100)
